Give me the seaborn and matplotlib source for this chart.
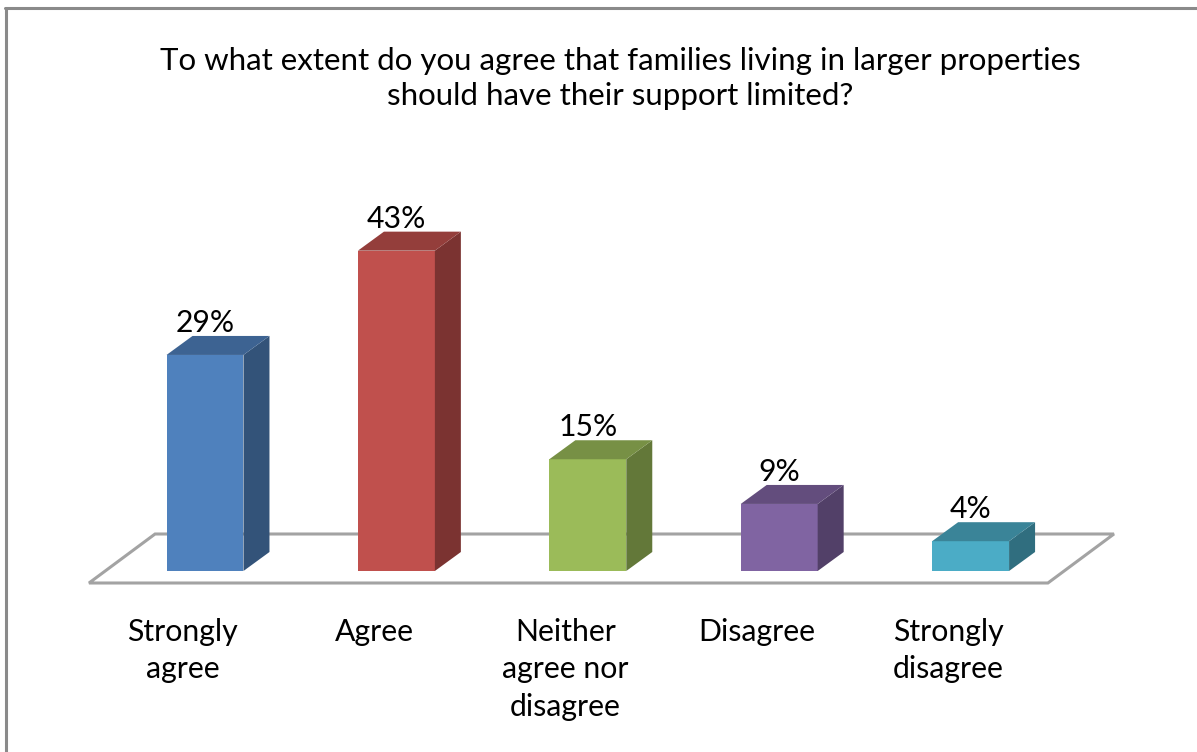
import numpy as np
import matplotlib
matplotlib.use("Agg")
import matplotlib.pyplot as plt
from matplotlib.patches import Polygon
from matplotlib.lines import Line2D
import matplotlib.colors as mcolors
import seaborn as sns

# ---- data ----
categories = ["Strongly\nagree", "Agree", "Neither\nagree nor\ndisagree", "Disagree", "Strongly\ndisagree"]
percentages = [29, 43, 15, 9, 4]
value_labels = ["29%", "43%", "15%", "9%", "4%"]
front_colors = ["#4F81BD", "#C0504D", "#9BBB59", "#8064A2", "#4BACC6"]
title = ("To what extent do you agree that families living in larger properties\n"
         "should have their support limited?")

sns.set_style("white")
plt.rcParams["font.family"] = ["Lato", "DejaVu Sans"]

W, H = 1197, 752
fig = plt.figure(figsize=(W / 100, H / 100), dpi=100)
ax = fig.add_axes([0, 0, 1, 1])

# pixel geometry of the plotting scale
x0_px, step_px = 205.0, 191.4      # centre of first bar, spacing
base_px, unit_px = 571.0, 7.45     # baseline row, pixels per percent

df = {"cat": categories, "pct": percentages}
sns.barplot(x="cat", y="pct", hue="cat", data=df, palette=front_colors,
            order=categories, hue_order=categories, width=0.402,
            legend=False, ax=ax, edgecolor="none", saturation=1, zorder=3)
bars = sorted(list(ax.patches), key=lambda p: p.get_x())

ax.set_xlim((0 - x0_px) / step_px, (W - x0_px) / step_px)
ax.set_ylim((base_px - H) / unit_px, base_px / unit_px)
ax.axis("off")

# depth of the 3-D extrusion in data units
dx = 26 / step_px
dy = 19 / unit_px


def shade(color, f):
    r, g, b = mcolors.to_rgb(color)
    return (r * f, g * f, b * f)


# floor parallelogram under the bars
n = len(categories)
fl_left, fl_right = -0.5 - 0.106, n - 0.5 - 0.096
fl_front, fl_back = -12 / unit_px, 37 / unit_px
fl_shift = 0.345
floor = Polygon([(fl_left, fl_front), (fl_right, fl_front),
                 (fl_right + fl_shift, fl_back), (fl_left + fl_shift, fl_back)],
                closed=True, facecolor="white", edgecolor="#a3a3a3",
                linewidth=2.2, zorder=1)
ax.add_patch(floor)

# extrude each bar: side and top faces
for p, col, lab in zip(bars, front_colors, value_labels):
    x, w, h = p.get_x(), p.get_width(), p.get_height()
    side = Polygon([(x + w, 0), (x + w + dx, dy), (x + w + dx, h + dy), (x + w, h)],
                   closed=True, facecolor=shade(col, 0.64), edgecolor="none", zorder=3)
    top = Polygon([(x, h), (x + w, h), (x + w + dx, h + dy), (x + dx, h + dy)],
                  closed=True, facecolor=shade(col, 0.77), edgecolor="none", zorder=3)
    ax.add_patch(side)
    ax.add_patch(top)
    ax.text(x + w / 2, h + dy + 4 / unit_px, lab, ha="center", va="baseline",
            fontsize=21.7, color="black", zorder=4)

# category labels under the floor
for i, c in enumerate(categories):
    ax.text(i - 0.117, (base_px - 618) / unit_px, c, ha="center", va="top",
            fontsize=21.8, color="black", linespacing=1.41)

# title
fig.text(620 / W, 1 - 47 / H, title, ha="center", va="top", fontsize=22.5,
         color="black", linespacing=1.3)

# chart frame (left and top edges)
frame_col = "#8a8a8a"
fig.add_artist(Line2D([6 / W, 6 / W], [0, 1 - 8 / H], transform=fig.transFigure,
                      color=frame_col, linewidth=2.2))
fig.add_artist(Line2D([5 / W, 1], [1 - 8 / H, 1 - 8 / H], transform=fig.transFigure,
                      color=frame_col, linewidth=2.2))

fig.savefig("out.png", dpi=100, facecolor="white")
